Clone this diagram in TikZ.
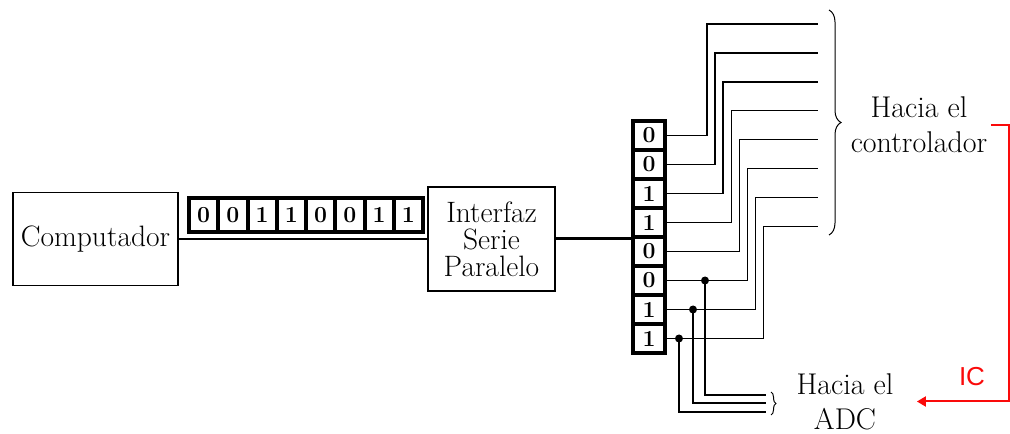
\documentclass[tikz,border=0pt]{standalone}
\usepackage{xcolor}
\usepackage{fontspec}
\newfontfamily\arialfont{Liberation Sans}
\definecolor{icrojo}{RGB}{250, 10, 10}
\usetikzlibrary{arrows.meta, decorations.pathreplacing, calc}

\begin{document}
\begin{tikzpicture}[x=1pt, y=1pt, >=Stealth]
\useasboundingbox (0,0) rectangle (1010,434);

% === Parámetros ===
\def\anchoH{29.25}  % Ancho de celda (registro serie)
\def\altoV{29}      % Alto de celda (registro paralelo)

\tikzset{
    caja/.style={draw, line width=1.5pt, inner sep=0pt, align=center,
        font=\fontsize{29.5}{27}\selectfont},
    bit/.style={draw, fill=white, line width=4pt, inner sep=0pt,
        font=\bfseries\fontsize{23}{23}\selectfont},
    rotulo/.style={align=center, font=\fontsize{30}{35}\selectfont},
    linea/.style={line width=1.5pt},
    llave/.style={line width=1pt, decorate},
    punto/.style={circle, fill=black, inner sep=0pt, minimum size=8pt}
}

% === Bloques ===
\node[caja, minimum width=165pt, minimum height=93pt] (comp) at (95.5,195) {Computador};
\node[caja, minimum width=127pt, minimum height=104pt] (interfaz) at (491.5,195)
    {Interfaz\\Serie\\Paralelo};

% Enlace serie
\draw[linea] (comp.east) -- (interfaz.west);

% === Registro serie (horizontal) ===
\foreach \b [count=\i] in {0,0,1,1,0,0,1,1}
    \node[bit, minimum width=\anchoH pt, minimum height=34pt] (h\i)
        at ({189+\anchoH/2+\anchoH*(\i-1)}, 219) {\b};

% === Registro paralelo (vertical) ===
\foreach \b [count=\i] in {0,0,1,1,0,0,1,1}
    \node[bit, minimum width=32pt, minimum height=\altoV pt] (v\i)
        at (649, {298.5-\altoV*(\i-1)}) {\b};

% Enlace interfaz -> registro paralelo
\draw[line width=3pt] (interfaz.east) -- (interfaz.east -| v4.west);

% === Salidas hacia el controlador ===
\foreach \k in {1,...,8} {
    \coordinate (s\k) at (818, {410-28.9*(\k-1)});
    \draw[linea] (v\k.east) -- ++({40+8.1*(\k-1)}, 0) |- (s\k);
}

\coordinate (llaveA) at (829,424);
\coordinate (llaveB) at (829,199);
\draw[llave, decoration={brace, amplitude=12pt}] (llaveA) -- (llaveB);
\node[rotulo] (ctrl) at (919,309) {Hacia el\\controlador};

% === Derivaciones hacia el ADC ===
\node[punto] (p6) at ($(v6.east)+(38,0)$) {};
\node[punto] (p7) at ($(v7.east)+(26,0)$) {};
\node[punto] (p8) at ($(v8.east)+(12,0)$) {};
\coordinate (a6) at (766,39);
\coordinate (a7) at (766,31);
\coordinate (a8) at (766,22);
\draw[linea] (p6.center) |- (a6);
\draw[linea] (p7.center) |- (a7);
\draw[linea] (p8.center) |- (a8);

\coordinate (llaveC) at (771,42);
\coordinate (llaveD) at (771,19);
\draw[llave, decoration={brace, amplitude=5pt}] (llaveC) -- (llaveD);
\node[rotulo] (adc) at (845,32.5) {Hacia el\\ADC};

% === Señal IC ===
\draw[icrojo, line width=2pt, -{Triangle[length=9pt, width=10pt]}]
    (ctrl.east) -- ++(18,0) |- ([xshift=20pt]adc.east);
\node[text=icrojo, font=\arialfont\fontsize{26}{26}\selectfont] (ic) at (972,57) {IC};

\end{tikzpicture}
\end{document}
